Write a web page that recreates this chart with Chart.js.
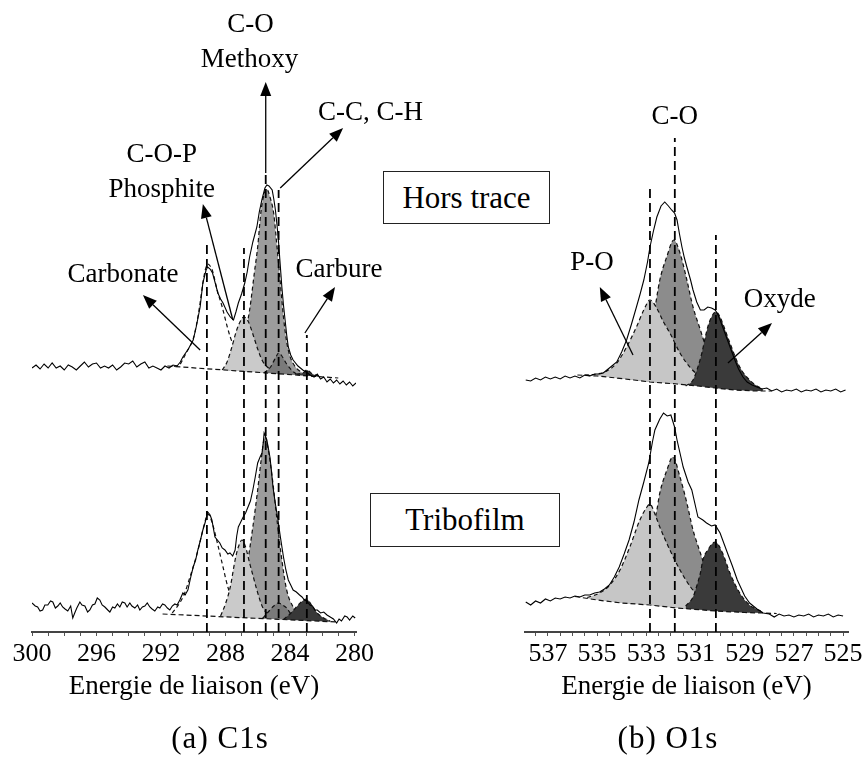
<!DOCTYPE html>
<html lang="fr">

<head>
    <meta charset="UTF-8" />
    <title>Spectres XPS C1s et O1s</title>
    <script src="https://cdn.jsdelivr.net/npm/chart.js"></script>
    <style>
        body {
            margin: 0;
            background: #fff;
        }

        .figure {
            position: relative;
            width: 867px;
            height: 758px;
            font-family: 'Liberation Serif', 'Times New Roman', serif;
            color: #000;
        }

        .figure canvas {
            position: absolute;
            left: 0;
            top: 0;
        }

        .tag {
            position: absolute;
            box-sizing: border-box;
            border: 1.5px solid #222;
            font-size: 31px;
            display: flex;
            align-items: center;
            justify-content: center;
        }

        .caption {
            position: absolute;
            top: 720px;
            width: 240px;
            margin-left: -120px;
            text-align: center;
            font-size: 31px;
            line-height: 36px;
            letter-spacing: 1px;
        }
    </style>
</head>

<body>
    <div class="figure">
        <div class="tag" style="left:383px; top:171px; width:167px; height:53px;">Hors trace</div>
        <div class="tag" style="left:370px; top:493px; width:190px; height:54px;">Tribofilm</div>
        <canvas id="c1sChart" width="867" height="758"></canvas>
        <canvas id="o1sChart" width="867" height="758"></canvas>
        <div class="caption" style="left:220px;">(a) C1s</div>
        <div class="caption" style="left:668px;">(b) O1s</div>
    </div>

    <script>
        // ===== C1s : spectres bruts [energie eV, intensite] =====
        const c1sHorsTrace = [
            [300.0, 264], [299.75, 267], [299.5, 263], [299.25, 268], [299.0, 264], [298.75, 269], [298.5, 264],
            [298.25, 266], [298.0, 262], [297.75, 267], [297.5, 265], [297.25, 262], [297.0, 266], [296.75, 270],
            [296.5, 265], [296.25, 268], [296.0, 269], [295.75, 264], [295.5, 266], [295.25, 264], [295.0, 267],
            [294.75, 262], [294.5, 265], [294.25, 269], [294.0, 268], [293.75, 271], [293.5, 265], [293.25, 268],
            [293.0, 270], [292.75, 264], [292.5, 266], [292.25, 264], [292.0, 262], [291.75, 266], [291.5, 264],
            [291.25, 267], [291.0, 266], [290.8, 270], [290.64, 275], [290.3, 283], [290.0, 292], [289.8, 306],
            [289.57, 325], [289.4, 349], [289.2, 362], [289.1, 365], [288.95, 363], [288.8, 359], [288.6, 347],
            [288.47, 339], [288.3, 333], [288.15, 329], [287.9, 320], [287.7, 315], [287.5, 312], [287.35, 320],
            [287.2, 329], [287.0, 338], [286.8, 349], [286.65, 360], [286.5, 375], [286.3, 390], [286.05, 405],
            [285.9, 420], [285.74, 432], [285.55, 444], [285.43, 447], [285.3, 446], [285.1, 442], [285.0, 433],
            [284.9, 422], [284.8, 407], [284.7, 389], [284.6, 367], [284.5, 345], [284.4, 327], [284.3, 312],
            [284.2, 297], [284.1, 285], [283.95, 277], [283.8, 272], [283.5, 266], [283.2, 262], [283.0, 260],
            [282.75, 257], [282.5, 255], [282.3, 258], [282.1, 253], [281.9, 255], [281.7, 250], [281.5, 253],
            [281.3, 249], [281.1, 252], [280.9, 248], [280.7, 251], [280.5, 247], [280.3, 250], [280.1, 246],
            [279.9, 249]
        ];

        const c1sTribofilm = [
            [300.0, 29], [299.8, 26], [299.65, 25], [299.5, 21], [299.34, 22], [299.2, 27], [299.02, 27],
            [298.85, 31], [298.71, 30], [298.55, 24], [298.4, 26], [298.25, 29], [298.1, 25], [297.95, 23],
            [297.78, 21], [297.6, 26], [297.47, 14], [297.35, 19], [297.22, 24], [297.03, 30], [296.9, 27],
            [296.72, 26], [296.55, 20], [296.41, 22], [296.25, 27], [296.1, 28], [295.95, 34], [295.79, 32],
            [295.65, 27], [295.48, 25], [295.3, 22], [295.17, 20], [295.0, 25], [294.86, 24], [294.7, 28],
            [294.55, 25], [294.4, 30], [294.24, 29], [294.1, 25], [293.93, 29], [293.8, 26], [293.62, 24],
            [293.45, 27], [293.31, 22], [293.15, 25], [293.0, 26], [292.85, 29], [292.69, 25], [292.55, 23],
            [292.38, 21], [292.2, 25], [292.07, 24], [291.9, 28], [291.76, 27], [291.6, 24], [291.45, 22],
            [291.3, 26], [291.14, 28], [291.0, 27], [290.83, 32], [290.64, 39], [290.5, 37], [290.33, 42],
            [290.15, 55], [290.0, 65], [289.85, 72], [289.71, 82], [289.55, 92], [289.4, 102], [289.25, 110],
            [289.1, 120], [288.95, 117], [288.84, 112], [288.65, 95], [288.5, 92], [288.35, 89], [288.2, 84],
            [288.03, 82], [287.85, 78], [287.72, 79], [287.55, 76], [287.4, 82], [287.3, 96], [287.2, 105],
            [287.05, 110], [286.9, 115], [286.75, 119], [286.6, 125], [286.45, 131], [286.3, 142], [286.15, 155],
            [286.0, 169], [285.85, 175], [285.73, 179], [285.65, 190], [285.6, 199], [285.52, 196], [285.43, 192],
            [285.35, 185], [285.24, 175], [285.15, 162], [285.05, 145], [284.9, 128], [284.74, 112], [284.6, 96],
            [284.4, 75], [284.25, 62], [284.1, 52], [283.95, 47], [283.8, 42], [283.6, 40], [283.4, 37],
            [283.25, 35], [283.1, 32], [282.95, 31], [282.76, 27], [282.6, 26], [282.45, 22], [282.3, 22],
            [282.1, 19], [281.9, 20], [281.7, 17], [281.5, 15], [281.3, 13], [281.1, 9], [280.95, 13],
            [280.8, 11], [280.6, 16], [280.45, 15], [280.3, 12], [280.1, 16], [279.95, 14]
        ];

        // ===== C1s : fond et composantes =====
        const c1sFondHT = [[291.6, 266], [281.0, 254]];
        const c1sCarbonateHT = [
            [291.2, 265.5], [290.8, 268], [290.6, 274], [290.3, 283], [290.0, 293], [289.8, 307], [289.6, 326],
            [289.4, 349], [289.25, 362], [289.1, 368], [288.95, 366], [288.8, 361], [288.5, 341], [288.2, 325],
            [287.9, 306], [287.7, 295], [287.4, 283], [287.1, 274], [286.8, 268], [286.5, 264], [286.0, 260]
        ];
        const c1sPhosphiteHT = [
            [288.2, 262], [287.9, 270], [287.6, 285], [287.3, 302], [287.0, 313], [286.85, 315], [286.6, 311],
            [286.3, 298], [286.0, 283], [285.7, 271], [285.4, 265], [285.0, 261], [284.6, 258]
        ];
        const c1sMethoxyHT = [
            [287.8, 262], [287.4, 270], [287.1, 282], [286.8, 298], [286.5, 322], [286.2, 360], [286.0, 385],
            [285.8, 420], [285.6, 438], [285.45, 443], [285.2, 433], [285.0, 418], [284.8, 385], [284.6, 350],
            [284.4, 315], [284.2, 290], [284.0, 276], [283.7, 266], [283.3, 260], [282.9, 257]
        ];
        const c1sCCHT = [
            [285.6, 259], [285.2, 265], [284.9, 274], [284.7, 279], [284.5, 276], [284.2, 268], [283.9, 262], [283.6, 258]
        ];
        const c1sCarbureHT = [[283.6, 258], [283.2, 259], [282.95, 262], [282.6, 258], [282.2, 256]];

        const c1sFondTF = [[291.9, 18], [281.1, 10]];
        const c1sCarbonateTF = [
            [291.3, 19], [290.8, 30], [290.5, 40], [290.2, 55], [290.0, 65], [289.7, 82], [289.4, 102],
            [289.2, 114], [289.1, 118], [288.95, 115], [288.8, 108], [288.5, 89], [288.15, 65], [287.85, 45],
            [287.6, 35], [287.4, 29], [286.9, 20], [286.5, 16], [286.0, 14.5]
        ];
        const c1sPhosphiteTF = [
            [288.3, 16], [288.0, 28], [287.7, 45], [287.4, 72], [287.2, 85], [286.97, 92], [286.75, 85],
            [286.5, 69], [286.3, 57], [286.05, 42], [285.7, 25], [285.3, 17], [285.0, 14]
        ];
        const c1sMethoxyTF = [
            [288.0, 16], [287.6, 19], [287.2, 25], [286.9, 42], [286.6, 72], [286.3, 105], [286.0, 142],
            [285.8, 170], [285.55, 195], [285.35, 183], [285.1, 155], [284.8, 112], [284.5, 72], [284.2, 42],
            [283.8, 25], [283.4, 17], [283.0, 12]
        ];
        const c1sCCTF = [
            [285.7, 13.5], [285.35, 20], [285.0, 26], [284.72, 29], [284.45, 27], [284.2, 24], [283.95, 18], [283.7, 13]
        ];
        const c1sCarbureTF = [
            [284.4, 12.5], [284.0, 18], [283.6, 25], [283.3, 30], [282.98, 33], [282.7, 28], [282.3, 19],
            [281.9, 14], [281.5, 11]
        ];

        // positions des pics (traits verticaux) et hauteur du haut du trait
        const c1sPics = [289.15, 286.85, 285.5, 284.7, 282.95];
        const c1sPicsHaut = [387, 384, 459, 442, 297];

        // ===== O1s : spectres bruts =====
        const o1sHorsTrace = [
            [537.9, 252], [537.7, 251], [537.5, 254], [537.3, 252], [537.1, 255], [536.9, 253], [536.7, 255],
            [536.5, 253], [536.3, 256], [536.1, 254], [535.9, 256], [535.7, 254], [535.5, 257], [535.3, 256],
            [535.1, 258], [534.9, 258], [534.75, 259], [534.6, 262], [534.4, 266], [534.2, 270], [534.0, 280],
            [533.8, 292], [533.6, 308], [533.4, 325], [533.25, 338], [533.1, 352], [532.95, 370], [532.85, 385],
            [532.7, 402], [532.57, 415], [532.4, 426], [532.25, 430], [532.1, 426], [531.97, 422], [531.85, 419],
            [531.75, 412], [531.65, 398], [531.55, 385], [531.45, 374], [531.35, 365], [531.2, 352], [531.1, 342],
            [530.95, 330], [530.8, 322], [530.65, 322], [530.5, 325], [530.35, 324], [530.2, 322], [530.1, 318],
            [530.0, 312], [529.85, 302], [529.7, 292], [529.55, 282], [529.4, 272], [529.25, 263], [529.07, 255],
            [528.9, 250], [528.7, 247], [528.5, 245], [528.3, 243], [528.1, 244], [527.9, 241], [527.7, 243],
            [527.5, 240], [527.3, 242], [527.1, 241], [526.9, 243], [526.7, 240], [526.5, 242], [526.3, 241],
            [526.1, 243], [525.9, 240], [525.7, 242], [525.5, 241], [525.3, 243], [525.1, 240], [524.9, 242]
        ];

        const o1sTribofilm = [
            [537.9, 30], [537.7, 27], [537.5, 31], [537.3, 29], [537.1, 33], [536.9, 31], [536.7, 34],
            [536.5, 33], [536.3, 35], [536.1, 34], [535.9, 36], [535.7, 35], [535.5, 37], [535.3, 37],
            [535.1, 39], [534.9, 40], [534.7, 43], [534.5, 47], [534.3, 55], [534.1, 65], [533.9, 78],
            [533.7, 92], [533.5, 110], [533.3, 132], [533.1, 150], [532.9, 169], [532.75, 190], [532.65, 202],
            [532.45, 213], [532.3, 219], [532.15, 216], [532.0, 217], [531.85, 205], [531.75, 192], [531.5, 165],
            [531.3, 150], [531.15, 142], [530.9, 115], [530.7, 112], [530.55, 109], [530.35, 106], [530.2, 107],
            [530.0, 99], [529.7, 79], [529.5, 66], [529.3, 52], [529.0, 36], [528.8, 29], [528.5, 23],
            [528.25, 19], [528.0, 18], [527.8, 15], [527.6, 18], [527.4, 16], [527.2, 17], [527.0, 15],
            [526.8, 17], [526.6, 16], [526.4, 18], [526.2, 15], [526.0, 17], [525.8, 16], [525.6, 18],
            [525.4, 15], [525.2, 17], [525.0, 16]
        ];

        // ===== O1s : fond et composantes =====
        const o1sFondHT = [
            [535.8, 257], [535.0, 256], [534.2, 254], [533.5, 252], [532.85, 250], [531.75, 248], [530.9, 246],
            [530.2, 244], [529.4, 242], [528.5, 241], [527.9, 241]
        ];
        const o1sPOHT = [
            [535.5, 257], [535.0, 258], [534.6, 261], [534.2, 269], [533.8, 285], [533.4, 305], [533.1, 322],
            [532.85, 332], [532.6, 325], [532.3, 310], [532.04, 299], [531.63, 279], [531.2, 264], [530.7, 254],
            [530.2, 248], [529.7, 245], [529.2, 243]
        ];
        const o1sCOHT = [
            [534.2, 254], [533.8, 257], [533.5, 262], [533.2, 274], [532.95, 290], [532.73, 312], [532.45, 352],
            [532.17, 375], [531.88, 392], [531.63, 379], [531.35, 352], [531.1, 325], [530.8, 302], [530.54, 282],
            [530.3, 265], [529.9, 252], [529.4, 245], [528.9, 242]
        ];
        const o1sOxydeHT = [
            [531.4, 246], [531.1, 252], [530.9, 265], [530.74, 279], [530.6, 295], [530.5, 305], [530.35, 315],
            [530.17, 320], [530.0, 315], [529.9, 309], [529.6, 289], [529.2, 265], [528.8, 252], [528.5, 246],
            [528.26, 243]
        ];

        const o1sFondTF = [
            [535.9, 35.5], [535.0, 32], [534.0, 29], [532.85, 27], [531.75, 24], [530.17, 21], [529.0, 19.5],
            [528.26, 19], [527.7, 18.5]
        ];
        const o1sPOTF = [
            [535.4, 34.5], [534.9, 39], [534.48, 47], [534.07, 62], [533.67, 85], [533.26, 112], [533.0, 124],
            [532.85, 128], [532.65, 118], [532.45, 105], [532.04, 82], [531.63, 62], [531.2, 45], [530.7, 32],
            [530.13, 26], [529.6, 22], [529.0, 20]
        ];
        const o1sCOTF = [
            [534.2, 30], [533.8, 35], [533.4, 49], [533.1, 67], [532.85, 90], [532.57, 122], [532.45, 139],
            [532.16, 162], [531.92, 175], [531.63, 155], [531.35, 129], [531.1, 102], [530.8, 79], [530.54, 59],
            [530.3, 44], [529.9, 30], [529.3, 24], [528.8, 20]
        ];
        const o1sOxydeTF = [
            [531.4, 26], [531.1, 35], [530.9, 50], [530.8, 59], [530.7, 72], [530.5, 82], [530.2, 90],
            [529.9, 79], [529.6, 59], [529.2, 39], [528.8, 27], [528.26, 20]
        ];

        const o1sPics = [532.85, 531.84, 530.17];
        const o1sPicsHaut = [444, 494, 397];

        // ===== Annotations (fleches et etiquettes) =====
        const c1sFleches = [
            [285.5, 459, 285.5, 550],
            [284.6, 444, 280.7, 504],
            [287.54, 312, 289.4, 428],
            [289.57, 282, 293.12, 337],
            [283.07, 299, 281.2, 345]
        ];
        const c1sEtiquettes = [
            ['C-O', 286.44, 607], ['Methoxy', 286.5, 572], ['C-C, C-H', 279.0, 519],
            ['C-O-P', 291.95, 477], ['Phosphite', 291.95, 442], ['Carbonate', 294.36, 357], ['Carbure', 280.96, 362]
        ];
        const o1sFleches = [
            [533.54, 277, 534.89, 345],
            [529.68, 269, 527.89, 309]
        ];
        const o1sEtiquettes = [['C-O', 531.84, 515], ['P-O', 535.21, 369], ['Oxyde', 527.57, 332]];

        const POLICE = "'Liberation Serif', 'Times New Roman', serif";

        function pts(pairs) {
            return pairs.map(([x, y]) => ({ x, y }));
        }

        function spectre(pairs) {
            return { data: pts(pairs), borderColor: '#000', borderWidth: 1.1, pointRadius: 0, fill: false, order: 0 };
        }

        function fond(pairs) {
            return { data: pts(pairs), borderColor: '#111', borderWidth: 1.2, borderDash: [5, 3], pointRadius: 0, fill: false, order: 1 };
        }

        function composante(pairs, couleur, cible, ordre) {
            return {
                data: pts(pairs), borderColor: '#111', borderWidth: 1.2, borderDash: [4, 3],
                backgroundColor: couleur, fill: { target: cible }, pointRadius: 0,
                cubicInterpolationMode: 'monotone', order: ordre
            };
        }

        // traits verticaux en tirets, de l'axe jusqu'au haut du pic
        function traits(pics, hauts) {
            return pics.map((e, i) => ({
                data: [{ x: e, y: 0 }, { x: e, y: hauts[i] }],
                borderColor: '#000', borderWidth: 1.8, borderDash: [9, 5], pointRadius: 0, fill: false, order: 0
            }));
        }

        function drawArrow(ctx, x0, y0, x1, y1) {
            const ang = Math.atan2(y1 - y0, x1 - x0);
            const L = 14, W = 5.5;
            const bx = x1 - L * Math.cos(ang), by = y1 - L * Math.sin(ang);
            ctx.beginPath();
            ctx.moveTo(x0, y0);
            ctx.lineTo(bx, by);
            ctx.stroke();
            ctx.beginPath();
            ctx.moveTo(x1, y1);
            ctx.lineTo(bx + W * Math.sin(ang), by - W * Math.cos(ang));
            ctx.lineTo(bx - W * Math.sin(ang), by + W * Math.cos(ang));
            ctx.closePath();
            ctx.fill();
        }

        const notesPlugin = {
            id: 'notes',
            afterDatasetsDraw(chart, args, opts) {
                const { ctx } = chart;
                const sx = chart.scales.x, sy = chart.scales.y;
                ctx.save();
                ctx.setLineDash([]);
                ctx.strokeStyle = '#000';
                ctx.fillStyle = '#000';
                ctx.lineWidth = 1.3;
                opts.fleches.forEach(([e0, h0, e1, h1]) => {
                    drawArrow(ctx, sx.getPixelForValue(e0), sy.getPixelForValue(h0),
                        sx.getPixelForValue(e1), sy.getPixelForValue(h1));
                });
                ctx.font = '27px ' + POLICE;
                ctx.textAlign = 'center';
                ctx.textBaseline = 'middle';
                opts.etiquettes.forEach(([t, e, h]) => {
                    ctx.fillText(t, sx.getPixelForValue(e), sy.getPixelForValue(h));
                });
                ctx.restore();
            }
        };

        function makeChart(id, cfg) {
            return new Chart(document.getElementById(id), {
                type: 'line',
                data: { datasets: cfg.datasets },
                options: {
                    responsive: false,
                    animation: false,
                    events: [],
                    layout: { padding: { left: cfg.padLeft, right: cfg.padRight, top: 0, bottom: 54 } },
                    plugins: {
                        legend: { display: false },
                        tooltip: { enabled: false },
                        notes: { fleches: cfg.fleches, etiquettes: cfg.etiquettes }
                    },
                    scales: {
                        x: {
                            type: 'linear',
                            reverse: true,
                            min: cfg.min,
                            max: cfg.max,
                            afterBuildTicks: (scale) => {
                                const t = [];
                                for (let v = cfg.first; v <= cfg.last + 1e-6; v += cfg.minor) {
                                    t.push({ value: Math.round(v * 100) / 100 });
                                }
                                scale.ticks = t;
                            },
                            afterFit: (scale) => { scale.height = 72; },
                            ticks: {
                                autoSkip: false,
                                maxRotation: 0,
                                minRotation: 0,
                                padding: 3,
                                color: '#000',
                                font: { family: POLICE, size: 26 },
                                callback: (v) => cfg.showLabel(v) ? String(v) : ''
                            },
                            grid: { drawOnChartArea: false, drawTicks: true, tickLength: 4, color: '#555' },
                            border: { display: true, color: '#444', width: 2 },
                            title: {
                                display: true,
                                text: 'Energie de liaison (eV)',
                                color: '#000',
                                font: { family: POLICE, size: 27 },
                                padding: { top: 0, bottom: 1 }
                            }
                        },
                        y: { display: false, min: 0, max: 632 }
                    }
                },
                plugins: [notesPlugin]
            });
        }

        function drawAll() {
            // ===== Graphique C1s =====
            // 0 : fond hors trace, 1 : fond tribofilm
            const c1sDatasets = [
                fond(c1sFondHT),
                fond(c1sFondTF),
                composante(c1sCarbonateHT, '#ffffff', 0, 6),
                composante(c1sMethoxyHT, '#9c9c9c', 0, 5),
                composante(c1sPhosphiteHT, '#cacaca', 0, 4),
                composante(c1sCCHT, '#7a7a7a', 0, 3),
                composante(c1sCarbureHT, '#383838', 0, 2),
                composante(c1sCarbonateTF, '#ffffff', 1, 6),
                composante(c1sMethoxyTF, '#9c9c9c', 1, 5),
                composante(c1sPhosphiteTF, '#cacaca', 1, 4),
                composante(c1sCCTF, '#7a7a7a', 1, 3),
                composante(c1sCarbureTF, '#383838', 1, 2),
                spectre(c1sHorsTrace),
                spectre(c1sTribofilm),
                ...traits(c1sPics, c1sPicsHaut)
            ];

            makeChart('c1sChart', {
                datasets: c1sDatasets,
                padLeft: 32,
                padRight: 511,
                min: 279.9,
                max: 300,
                first: 280,
                last: 300,
                minor: 1,
                showLabel: (v) => v % 4 === 0,
                fleches: c1sFleches,
                etiquettes: c1sEtiquettes
            });

            // ===== Graphique O1s =====
            const o1sDatasets = [
                fond(o1sFondHT),
                fond(o1sFondTF),
                composante(o1sCOHT, '#8c8c8c', 0, 5),
                composante(o1sPOHT, '#c6c6c6', 0, 4),
                composante(o1sOxydeHT, '#3a3a3a', 0, 3),
                composante(o1sCOTF, '#8c8c8c', 1, 5),
                composante(o1sPOTF, '#c6c6c6', 1, 4),
                composante(o1sOxydeTF, '#3a3a3a', 1, 3),
                spectre(o1sHorsTrace),
                spectre(o1sTribofilm),
                ...traits(o1sPics, o1sPicsHaut)
            ];

            makeChart('o1sChart', {
                datasets: o1sDatasets,
                padLeft: 525,
                padRight: 19,
                min: 524.8,
                max: 537.93,
                first: 525,
                last: 537.5,
                minor: 0.5,
                showLabel: (v) => Math.abs(v % 2) === 1,
                fleches: o1sFleches,
                etiquettes: o1sEtiquettes
            });
        }

        // la police serif doit etre prete avant de dessiner dans le canvas
        document.fonts.load("27px 'Liberation Serif'").then(drawAll, drawAll);
    </script>
</body>

</html>
